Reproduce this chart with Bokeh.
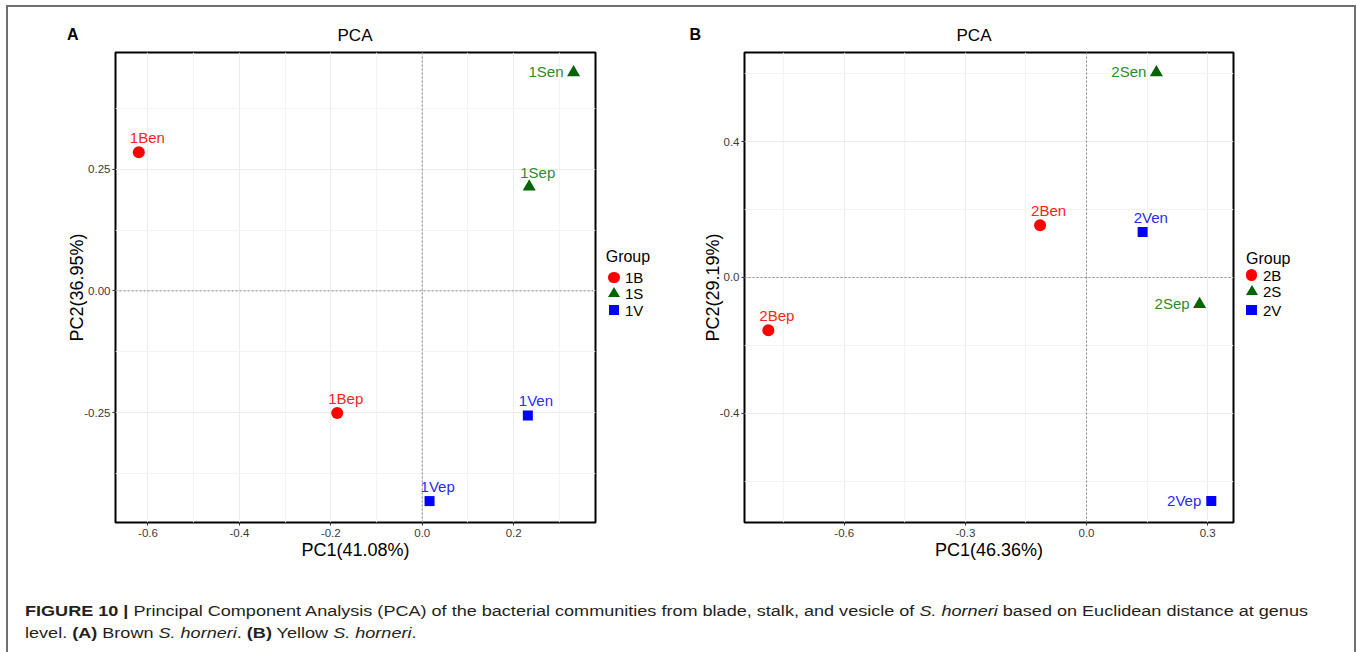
from bokeh.plotting import figure
from bokeh.models import (ColumnDataSource, Range1d, FixedTicker, Span, Div, CustomJSTickFormatter)
from bokeh.layouts import row, column
from bokeh.core.properties import value
from bokeh.embed import file_html
from bokeh.resources import INLINE

FONT = "Liberation Sans"

# ---------------- data ----------------
a_samples = ["1Ben", "1Bep", "1Sen", "1Sep", "1Ven", "1Vep"]
a_groups = ["1B", "1B", "1S", "1S", "1V", "1V"]
a_pc1 = [-0.620, -0.186, 0.331, 0.234, 0.231, 0.016]
a_pc2 = [0.285, -0.251, 0.449, 0.214, -0.256, -0.432]
a_label_side = ["above", "above", "left", "above", "above", "above"]
a_xlabel = "PC1(41.08%)"
a_ylabel = "PC2(36.95%)"
a_xticks = [-0.6, -0.4, -0.2, 0.0, 0.2]
a_xtick_labels = ["-0.6", "-0.4", "-0.2", "0.0", "0.2"]
a_yticks = [-0.25, 0.0, 0.25]
a_ytick_labels = ["-0.25", "0.00", "0.25"]
a_xrange = (-0.671, 0.379)
a_yrange = (-0.476, 0.490)

b_samples = ["2Ben", "2Bep", "2Sen", "2Sep", "2Ven", "2Vep"]
b_groups = ["2B", "2B", "2S", "2S", "2V", "2V"]
b_pc1 = [-0.115, -0.788, 0.173, 0.280, 0.139, 0.309]
b_pc2 = [0.154, -0.155, 0.603, -0.079, 0.134, -0.658]
b_label_side = ["above", "above", "left", "left", "above", "left"]
b_xlabel = "PC1(46.36%)"
b_ylabel = "PC2(29.19%)"
b_xticks = [-0.6, -0.3, 0.0, 0.3]
b_xtick_labels = ["-0.6", "-0.3", "0.0", "0.3"]
b_yticks = [-0.4, 0.0, 0.4]
b_ytick_labels = ["-0.4", "0.0", "0.4"]
b_xrange = (-0.847, 0.364)
b_yrange = (-0.721, 0.662)

legend_title = "Group"
plot_title = "PCA"
panel_letters = ["A", "B"]

# ---------------- styles ----------------
GROUP_MARKER = {"B": "circle", "S": "triangle", "V": "square"}
GROUP_COLOR = {"B": "#FF0000", "S": "#006400", "V": "#0000FF"}
GROUP_TEXT_COLOR = {"B": "#FF2424", "S": "#2F8A2F", "V": "#2A2AF2"}
GROUP_SIZE = {"B": 12, "S": 13, "V": 10}
SIDE_STYLE = {"above": ("left", -9, -14.5), "left": ("right", -10, -1)}

TOP_H = 46          # header strip (outer border, panel letters, titles)
FIG_H = 534         # figure band
CAP_H = 72          # caption strip
FRAME_COLOR = "#707070"
HTML_FONT = "font-family:'Liberation Sans',Arial,sans-serif;"


def minor_ticks(majors, lo, hi):
    step = majors[1] - majors[0]
    cands = [m + step / 2 for m in majors] + [majors[0] - step / 2]
    return sorted(c for c in cands if lo < c < hi)


def tick_formatter(ticks, labels):
    return CustomJSTickFormatter(args=dict(tvals=ticks, tlabels=labels), code="""
        let best = 0, d = Infinity;
        for (let i = 0; i < tvals.length; i++) {
            const e = Math.abs(tvals[i] - tick);
            if (e < d) { d = e; best = i; }
        }
        return tlabels[best];
    """)


def make_panel(samples, groups, pc1, pc2, sides, xr, yr,
               xticks, xtl, yticks, ytl, xlabel, ylabel,
               width, border_left, border_right):
    p = figure(width=width, height=FIG_H, x_range=Range1d(*xr), y_range=Range1d(*yr),
               output_backend="svg", toolbar_location=None, title=None,
               min_border_left=border_left, min_border_right=border_right,
               min_border_top=6, min_border_bottom=58)
    p.background_fill_color = "white"
    p.border_fill_color = "white"
    p.outline_line_color = "black"
    p.outline_line_width = 2

    p.xaxis.ticker = FixedTicker(ticks=xticks, minor_ticks=minor_ticks(xticks, *xr))
    p.yaxis.ticker = FixedTicker(ticks=yticks, minor_ticks=minor_ticks(yticks, *yr))
    p.xaxis.formatter = tick_formatter(xticks, xtl)
    p.yaxis.formatter = tick_formatter(yticks, ytl)
    for ax in (p.xaxis, p.yaxis):
        ax.axis_line_color = None
        ax.major_tick_line_color = "#333333"
        ax.major_tick_in = 0
        ax.major_tick_out = 3
        ax.minor_tick_line_color = None
        ax.major_label_text_font = FONT
        ax.major_label_text_font_size = "11.5px"
        ax.major_label_text_color = "#3a3a3a"
        ax.axis_label_text_font = FONT
        ax.axis_label_text_font_size = "18px"
        ax.axis_label_text_font_style = "normal"
        ax.axis_label_text_color = "black"
    p.xaxis.axis_label_standoff = 0
    p.yaxis.axis_label_standoff = -6
    p.xaxis.major_label_standoff = 2
    p.yaxis.major_label_standoff = 1
    p.xaxis.axis_label = xlabel
    p.yaxis.axis_label = ylabel

    for g in (p.xgrid, p.ygrid):
        g.grid_line_color = "#EBEBEB"
        g.grid_line_width = 1
        g.minor_grid_line_color = "#F3F3F3"
        g.minor_grid_line_width = 1

    p.add_layout(Span(location=0, dimension="height", line_color="#8a8a8a",
                      line_dash="2 2", line_width=1, level="underlay"))
    p.add_layout(Span(location=0, dimension="width", line_color="#8a8a8a",
                      line_dash="2 2", line_width=1, level="underlay"))

    order = []
    for g in groups:
        if g not in order:
            order.append(g)
    for g in order:
        key = g[-1]
        idx = [i for i, gg in enumerate(groups) if gg == g]
        src = ColumnDataSource(dict(x=[pc1[i] for i in idx], y=[pc2[i] for i in idx]))
        p.scatter("x", "y", source=src, marker=GROUP_MARKER[key], size=GROUP_SIZE[key],
                  fill_color=GROUP_COLOR[key], line_color=None)

    lab = ColumnDataSource(dict(
        x=list(pc1), y=list(pc2), name=list(samples),
        align=[SIDE_STYLE[s][0] for s in sides],
        dx=[SIDE_STYLE[s][1] for s in sides],
        dy=[SIDE_STYLE[s][2] for s in sides],
        color=[GROUP_TEXT_COLOR[g[-1]] for g in groups],
    ))
    p.text(x="x", y="y", text="name", source=lab, text_align="align",
           text_baseline="alphabetic", x_offset="dx", y_offset="dy",
           text_color="color", text_font=value(FONT), text_font_size="15px")
    return p, order


def marker_html(key, cx, cy):
    c = GROUP_COLOR[key]
    if key == "B":
        d = 11.7
        return ('<div style="position:absolute;left:%.1fpx;top:%.1fpx;width:%.1fpx;height:%.1fpx;'
                'border-radius:50%%;background:%s;"></div>' % (cx - d / 2, cy - d / 2, d, d, c))
    if key == "S":
        w, h = 12.0, 10.6
        return ('<div style="position:absolute;left:%.1fpx;top:%.1fpx;width:0;height:0;'
                'border-left:%.1fpx solid transparent;border-right:%.1fpx solid transparent;'
                'border-bottom:%.1fpx solid %s;"></div>' % (cx - w / 2, cy - h * 0.6, w / 2, w / 2, h, c))
    d = 10.2
    return ('<div style="position:absolute;left:%.1fpx;top:%.1fpx;width:%.1fpx;height:%.1fpx;'
            'background:%s;"></div>' % (cx - d / 2, cy - d / 2, d, d, c))


def legend_div(groups_in_order, width, title_x, title_cy, glyph_cx, label_x, item_cys):
    parts = ['<div style="position:relative;width:%dpx;height:%dpx;%scolor:black;">'
             % (width, FIG_H, HTML_FONT)]
    parts.append('<div style="position:absolute;left:%.1fpx;top:%.1fpx;font-size:16px;'
                 'line-height:16px;white-space:nowrap;">%s</div>'
                 % (title_x, title_cy + 5.7 - 13.5, legend_title))
    for g, cy in zip(groups_in_order, item_cys):
        parts.append(marker_html(g[-1], glyph_cx, cy))
        parts.append('<div style="position:absolute;left:%.1fpx;top:%.1fpx;font-size:15px;'
                     'line-height:15px;white-space:nowrap;">%s</div>' % (label_x, cy - 7.3, g))
    parts.append('</div>')
    return Div(text="".join(parts), width=width, height=FIG_H, margin=0)


# panel A plot: page x 8..598, legend A 598..680, panel B plot 680..1236, legend B 1236..1354
pA, a_order = make_panel(a_samples, a_groups, a_pc1, a_pc2, a_label_side, a_xrange, a_yrange,
                         a_xticks, a_xtick_labels, a_yticks, a_ytick_labels, a_xlabel, a_ylabel,
                         width=590, border_left=107, border_right=3)
pB, b_order = make_panel(b_samples, b_groups, b_pc1, b_pc2, b_label_side, b_xrange, b_yrange,
                         b_xticks, b_xtick_labels, b_yticks, b_ytick_labels, b_xlabel, b_ylabel,
                         width=556, border_left=64, border_right=3)

# legend geometry in the strip's own pixels (strip top = page y 46)
legA = legend_div(a_order, 82, title_x=7.7, title_cy=210.7, glyph_cx=16.0, label_x=27.0,
                  item_cys=[231.7, 247.3, 264.0])
legB = legend_div(b_order, 118, title_x=10.0, title_cy=212.3, glyph_cx=15.5, label_x=27.0,
                  item_cys=[229.0, 245.7, 264.0])

LINE = "position:absolute;background:%s;" % FRAME_COLOR
TXT = "position:absolute;%scolor:black;white-space:nowrap;" % HTML_FONT
header_html = (
    '<div style="position:relative;width:1357px;height:%dpx;overflow:hidden;">' % TOP_H
    + '<div style="%sleft:6px;top:5px;width:1350px;height:2px;"></div>' % LINE
    + '<div style="%sleft:6px;top:5px;width:2px;height:60px;"></div>' % LINE
    + '<div style="%sleft:1354px;top:5px;width:2px;height:60px;"></div>' % LINE
    + '<div style="%sleft:67px;top:26.5px;font-size:16px;line-height:16px;font-weight:bold;">%s</div>'
    % (TXT, panel_letters[0])
    + '<div style="%sleft:689.5px;top:26.5px;font-size:16px;line-height:16px;font-weight:bold;">%s</div>'
    % (TXT, panel_letters[1])
    + '<div style="%sleft:255px;width:200px;text-align:center;top:27.3px;font-size:17px;line-height:17px;">%s</div>'
    % (TXT, plot_title)
    + '<div style="%sleft:874px;width:200px;text-align:center;top:27.3px;font-size:17px;line-height:17px;">%s</div>'
    % (TXT, plot_title)
    + '</div>'
)
header = Div(text=header_html, width=1357, height=TOP_H, margin=0)

left_strip = Div(text='<div style="margin-left:6px;width:2px;height:%dpx;background:%s;"></div>'
                 % (FIG_H, FRAME_COLOR), width=8, height=FIG_H, margin=0)
right_strip = Div(text='<div style="width:2px;height:%dpx;background:%s;"></div>'
                  % (FIG_H, FRAME_COLOR), width=3, height=FIG_H, margin=0)

caption_html = (
    '<div style="box-sizing:border-box;width:1350px;height:%dpx;margin:0 0 0 6px;'
    'border-left:2px solid %s;border-right:2px solid %s;padding:20px 0 0 17px;'
    '%sfont-size:14px;line-height:22px;color:#231f20;overflow:hidden;">'
    '<div style="transform:scaleX(1.29);transform-origin:0 0;white-space:nowrap;">'
    '<b>FIGURE 10 |</b> Principal Component Analysis (PCA) of the bacterial communities '
    'from blade, stalk, and vesicle of <i>S. horneri</i> based on Euclidean distance at genus<br>'
    'level. <b>(A)</b> Brown <i>S. horneri</i>. <b>(B)</b> Yellow <i>S. horneri</i>.'
    '</div></div>'
) % (CAP_H, FRAME_COLOR, FRAME_COLOR, HTML_FONT)
cap = Div(text=caption_html, width=1357, height=CAP_H, margin=0)

layout = column(header, row(left_strip, pA, legA, pB, legB, right_strip), cap)
open("out.html", "w").write(file_html(layout, INLINE, title="PCA"))
